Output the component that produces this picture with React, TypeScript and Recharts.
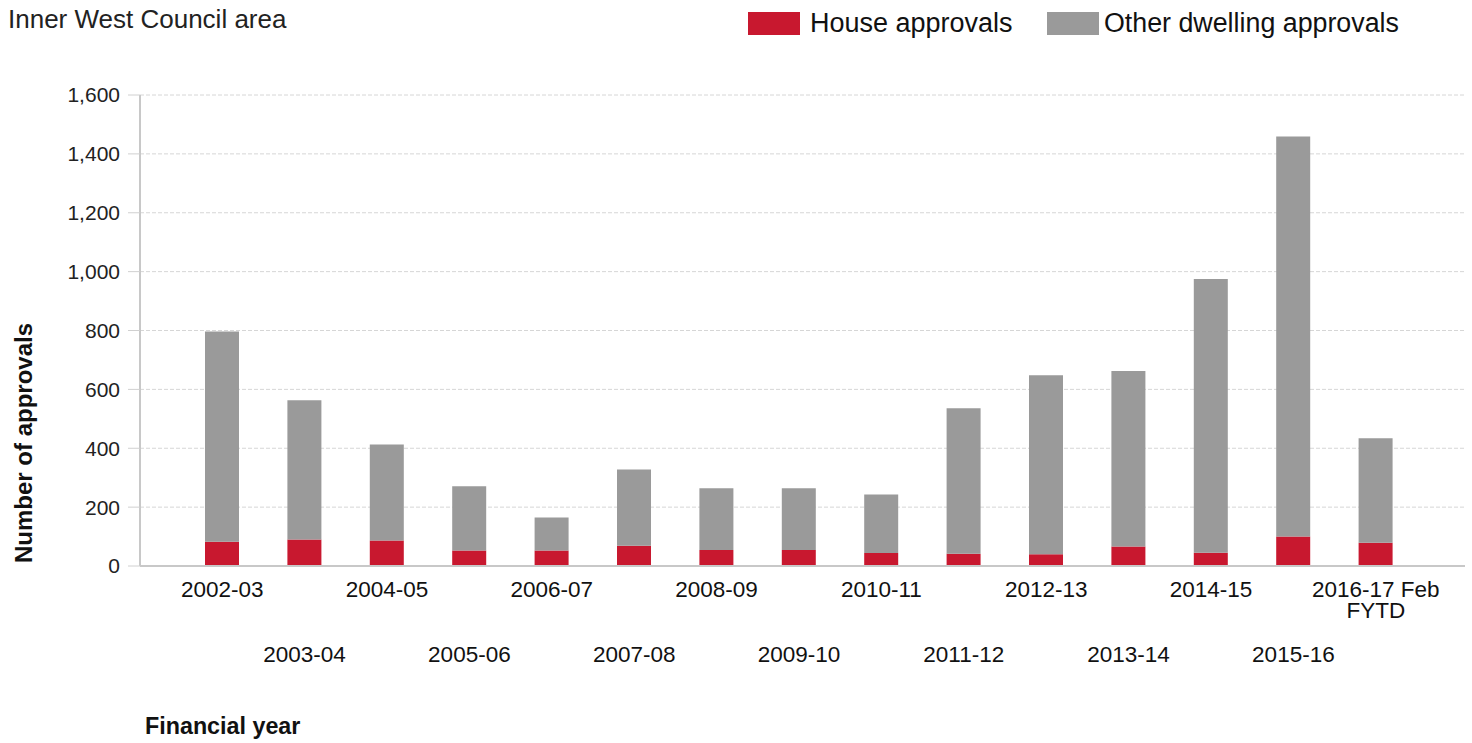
import { BarChart, Bar, XAxis, YAxis, CartesianGrid } from "recharts";

const FONT = '"Liberation Sans", Arial, sans-serif';
const RED = "#c8182f";
const GREY = "#9a9a9a";

const categories = [
  "2002-03",
  "2003-04",
  "2004-05",
  "2005-06",
  "2006-07",
  "2007-08",
  "2008-09",
  "2009-10",
  "2010-11",
  "2011-12",
  "2012-13",
  "2013-14",
  "2014-15",
  "2015-16",
  "2016-17 Feb FYTD",
];

const houseApprovals = [82, 90, 87, 53, 53, 69, 54, 54, 44, 42, 40, 66, 45, 100, 79];
const otherApprovals = [715, 473, 326, 218, 112, 259, 210, 210, 199, 494, 608, 596, 930, 1359, 355];

const yTicks = [0, 200, 400, 600, 800, 1000, 1200, 1400, 1600];

const data = categories.map((year, i) => ({
  year,
  house: houseApprovals[i],
  other: otherApprovals[i],
}));

const fmt = new Intl.NumberFormat("en-AU");

// labels alternate between two rows, long ones wrap the last word
function YearTick(props: any) {
  const { x, y, payload, index } = props;
  const label = String(payload.value);
  const words = label.split(" ");
  const lines = words.length > 1 ? [words.slice(0, -1).join(" "), words[words.length - 1]] : [label];
  const lower = index % 2 === 1;
  return (
    <text x={x} y={y} textAnchor="middle" fill="#111" fontSize={22.5} fontFamily={FONT}>
      {lines.map((l, i) => (
        <tspan key={i} x={x} dy={i === 0 ? (lower ? 96 : 31) : 21}>
          {l}
        </tspan>
      ))}
    </text>
  );
}

const swatch = (color: string, left: number) => (
  <div style={{ position: "absolute", left, top: 12, width: 52, height: 23, background: color }} />
);

export default function App() {
  return (
    <div style={{ position: "relative", width: 1472, height: 743, fontFamily: FONT, color: "#111" }}>
      <style>{"body{margin:0}"}</style>
      <div style={{ position: "absolute", left: 8, top: 6, fontSize: 26, lineHeight: "26px", color: "#222" }}>
        Inner West Council area
      </div>

      {swatch(RED, 748)}
      <div style={{ position: "absolute", left: 810, top: 10, fontSize: 27, lineHeight: "27px" }}>House approvals</div>
      {swatch(GREY, 1047)}
      <div style={{ position: "absolute", left: 1104, top: 10, fontSize: 26.8, lineHeight: "27px" }}>
        Other dwelling approvals
      </div>

      <div
        style={{
          position: "absolute",
          left: 24,
          top: 443,
          transform: "translate(-50%, -50%) rotate(-90deg)",
          whiteSpace: "nowrap",
          fontSize: 24,
          fontWeight: "bold",
        }}
      >
        Number of approvals
      </div>
      <div style={{ position: "absolute", left: 145, top: 714, fontSize: 23.3, fontWeight: "bold", lineHeight: "25px" }}>
        Financial year
      </div>

      <BarChart
        width={1472}
        height={743}
        data={data}
        margin={{ top: 95, right: 7, bottom: 0, left: 0 }}
        barSize={34}
      >
        <CartesianGrid vertical={false} stroke="#d6d6d6" strokeDasharray="4 2" />
        <XAxis
          dataKey="year"
          interval={0}
          height={177}
          padding={{ left: 41, right: 48 }}
          tickLine={false}
          tickSize={0}
          tickMargin={0}
          axisLine={{ stroke: "#c8c8c8", strokeWidth: 2 }}
          tick={<YearTick />}
        />
        <YAxis
          width={140}
          domain={[0, 1600]}
          ticks={yTicks}
          interval={0}
          tickFormatter={(v: number) => fmt.format(v)}
          tickSize={12}
          tickMargin={8}
          tickLine={{ stroke: "#d0d0d0" }}
          axisLine={{ stroke: "#c8c8c8", strokeWidth: 2 }}
          tick={{ fill: "#222", fontSize: 21, fontFamily: FONT }}
        />
        <Bar dataKey="house" stackId="a" fill={RED} isAnimationActive={false} />
        <Bar dataKey="other" stackId="a" fill={GREY} isAnimationActive={false} />
      </BarChart>
    </div>
  );
}
